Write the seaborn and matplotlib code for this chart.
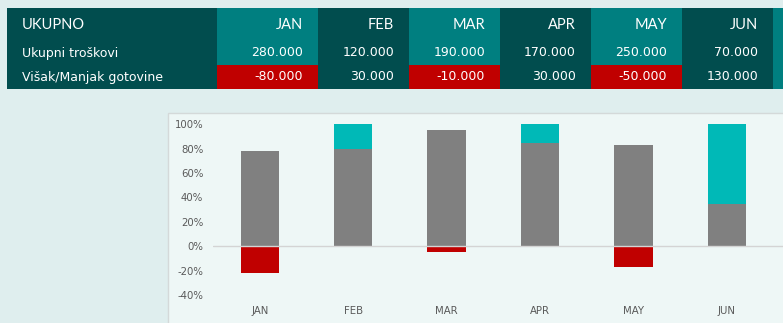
import matplotlib
matplotlib.use("Agg")
import matplotlib.pyplot as plt
from matplotlib.patches import Rectangle
import seaborn as sns
import pandas as pd

# ---- data ----
months = ["JAN", "FEB", "MAR", "APR", "MAY", "JUN"]
costs = [280000, 120000, 190000, 170000, 250000, 70000]
surplus = [-80000, 30000, -10000, 30000, -50000, 130000]
cost_pct = [77.8, 80.0, 95.0, 85.0, 83.3, 35.0]
surplus_pct = [-22.2, 20.0, -5.0, 15.0, -16.7, 65.0]
row_labels = ["UKUPNO", "Ukupni troškovi", "Višak/Manjak gotovine"]
yticks = [-40, -20, 0, 20, 40, 60, 80, 100]

# ---- colours ----
BG = "#dfeeee"
PANEL = "#eef7f6"
DARK = "#014d4e"
TEAL = "#007f80"
RED = "#c00000"
GRAY = "#808080"
CYAN = "#00b9b7"
TXT = "#595959"

sns.set_theme(style="white")
plt.rcParams["font.family"] = ["DejaVu Sans"]

W, H = 783, 323
fig = plt.figure(figsize=(W / 100, H / 100), dpi=100, facecolor=BG)

# overlay in pixel coordinates for table and panel
ov = fig.add_axes([0, 0, 1, 1], zorder=0)
ov.set_xlim(0, W)
ov.set_ylim(H, 0)
ov.axis("off")

# table
x0, y0, y1, y2 = 7, 8, 65, 89
col_edges = [217, 318, 409, 500, 591, 682, 773]
ov.add_patch(Rectangle((x0, y0), col_edges[0] - x0, y2 - y0, color=DARK, lw=0))
for i, m in enumerate(months):
    xl, xr = col_edges[i], col_edges[i + 1]
    c = TEAL if i % 2 == 0 else DARK
    ov.add_patch(Rectangle((xl, y0), xr - xl, y2 - y0, color=c, lw=0))
    if surplus[i] < 0:
        ov.add_patch(Rectangle((xl, y1), xr - xl, y2 - y1, color=RED, lw=0))
    ov.text(xr - 15, 25, m, color="white", ha="right", va="center",
            fontsize=10.5, family="Lato")
    ov.text(xr - 15, 53, f"{costs[i]:,}".replace(",", "."), color="white",
            ha="right", va="center", fontsize=9)
    ov.text(xr - 15, 77, f"{surplus[i]:,}".replace(",", "."), color="white",
            ha="right", va="center", fontsize=9)
ov.add_patch(Rectangle((col_edges[-1], y0), W - col_edges[-1], y2 - y0, color=TEAL, lw=0))
ov.text(22, 25, row_labels[0], color="white", ha="left", va="center",
        fontsize=10.5, family="Lato")
ov.text(22, 53, row_labels[1], color="white", ha="left", va="center", fontsize=9)
ov.text(22, 77, row_labels[2], color="white", ha="left", va="center", fontsize=9)

# chart panel
ov.add_patch(Rectangle((167.5, 112.5), W, H, facecolor=PANEL, edgecolor="#d4d9d9", lw=1))

# ---- chart ----
ax = fig.add_axes([213 / W, 28 / H, 570 / W, 170.7 / H], zorder=1)
ax.set_facecolor("none")

df = pd.DataFrame({
    "month": months,
    "cost": cost_pct,
    "surplus": surplus_pct,
})
df["top"] = df["cost"] + df["surplus"].clip(lower=0)
df["neg"] = df["surplus"].clip(upper=0)

bw = 0.41
sns.barplot(data=df, x="month", y="top", order=months, color=CYAN, width=bw,
            linewidth=0, saturation=1, ax=ax)
sns.barplot(data=df, x="month", y="cost", order=months, color=GRAY, width=bw,
            linewidth=0, saturation=1, ax=ax)
sns.barplot(data=df, x="month", y="neg", order=months, color=RED, width=bw,
            linewidth=0, saturation=1, ax=ax)

ax.axhline(0, color="#d4d4d4", lw=1, zorder=5)
ax.set_xlim(-0.5, 5.6)
ax.set_ylim(-40, 100)
ax.set_yticks(yticks)
ax.set_yticklabels([f"{t}%" for t in yticks])
ax.set_xlabel("")
ax.set_ylabel("")
for s in ax.spines.values():
    s.set_visible(False)
ax.tick_params(axis="both", length=0, labelsize=7.3, labelcolor=TXT)
ax.tick_params(axis="y", pad=7)
ax.tick_params(axis="x", pad=8)

fig.savefig("out.png", dpi=100, facecolor=BG)
